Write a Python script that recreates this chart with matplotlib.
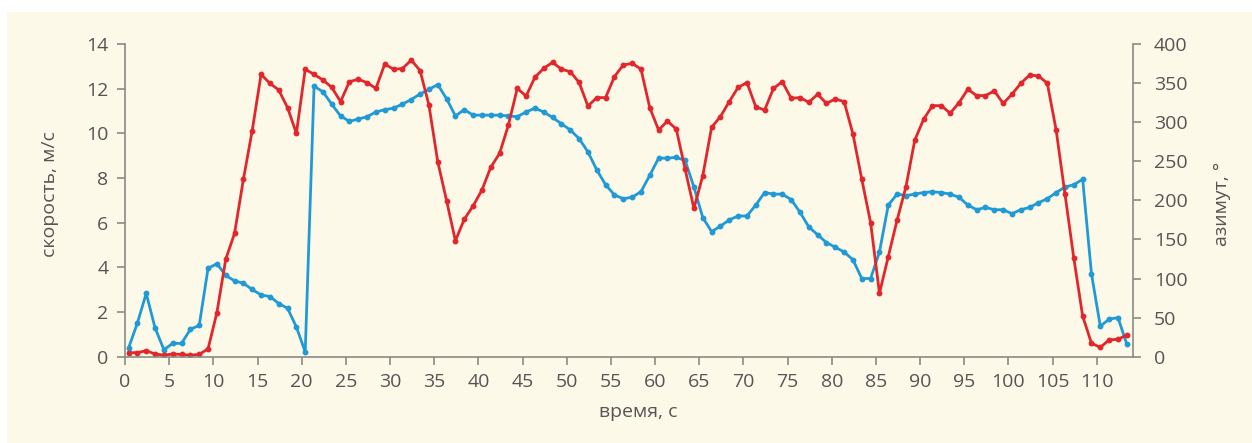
import numpy as np
import matplotlib
matplotlib.use("Agg")
import matplotlib.pyplot as plt
from matplotlib.patches import Rectangle

# time grid, 1 s sampling
time_s = np.arange(114) + 0.4

speed = [
    0.18, 0.18, 0.27, 0.12, 0.07, 0.12, 0.10, 0.07, 0.10, 0.35,
    1.97, 4.36, 5.52, 7.94, 10.12, 12.64, 12.24, 11.94, 11.15, 10.00,
    12.87, 12.64, 12.39, 12.06, 11.42, 12.31, 12.42, 12.27, 12.01, 13.10,
    12.87, 12.90, 13.28, 12.81, 11.27, 8.73, 6.99, 5.19, 6.15, 6.75,
    7.46, 8.48, 9.10, 10.37, 12.01, 11.67, 12.51, 12.91, 13.18, 12.87,
    12.76, 12.28, 11.22, 11.60, 11.60, 12.54, 13.06, 13.13, 12.88, 11.15,
    10.15, 10.55, 10.19, 8.40, 6.64, 8.10, 10.27, 10.75, 11.42, 12.06,
    12.27, 11.19, 11.04, 12.01, 12.31, 11.57, 11.60, 11.39, 11.75, 11.34,
    11.54, 11.42, 9.97, 7.94, 6.00, 2.84, 4.48, 6.12, 7.61, 9.70,
    10.63, 11.24, 11.24, 10.90, 11.37, 11.97, 11.69, 11.69, 11.90, 11.34,
    11.75, 12.24, 12.61, 12.57, 12.24, 10.15, 7.28, 4.41, 1.82, 0.60,
    0.42, 0.75, 0.78, 0.97,
]

azimuth = [
    11, 43, 81, 37, 9, 17, 17, 35, 40, 113,
    119, 104, 97, 94, 86, 79, 77, 68, 62, 38,
    6, 346, 339, 323, 308, 301, 304, 307, 313, 316,
    318, 323, 329, 336, 342, 348, 330, 308, 316, 309,
    309, 309, 309, 308, 307, 313, 318, 313, 306, 298,
    290, 279, 262, 239, 220, 207, 202, 204, 211, 232,
    254, 254, 255, 251, 217, 178, 160, 167, 175, 180,
    180, 194, 210, 208, 208, 201, 185, 166, 156, 146,
    140, 134, 124, 100, 100, 134, 194, 208, 206, 208,
    210, 211, 210, 208, 204, 194, 188, 191, 188, 188,
    183, 188, 191, 197, 202, 210, 217, 220, 227, 106,
    39, 48, 50, 16,
]

x_ticks = list(range(0, 111, 5))
speed_ticks = list(range(0, 15, 2))
azimuth_ticks = list(range(0, 401, 50))

RED = "#e3262b"
BLUE = "#1f9ad6"
CREAM = "#fdf9e8"
TEXT = "#555555"
GREY = "#8a8a85"

plt.rcParams["font.family"] = ["Open Sans", "DejaVu Sans"]

fig = plt.figure(figsize=(12.52, 4.43), dpi=100, facecolor="white")
fig.patches.append(Rectangle((7 / 1252, 0), 1 - 7 / 1252, 1 - 12 / 443,
                             transform=fig.transFigure, facecolor=CREAM,
                             edgecolor="none", zorder=-10))

ax = fig.add_axes([125 / 1252, 86.3 / 443, 1008 / 1252, 312.7 / 443])
ax2 = ax.twinx()
ax.set_zorder(ax2.get_zorder() + 1)
ax.patch.set_visible(False)
ax2.patch.set_visible(False)

ax2.plot(time_s, azimuth, color=BLUE, lw=2.0, marker="o", ms=3.2,
         solid_joinstyle="round")
ax.plot(time_s, speed, color=RED, lw=2.0, marker="o", ms=3.2,
        solid_joinstyle="round")

ax.set_xlim(0, 114.1)
ax.set_ylim(0, 14)
ax2.set_ylim(0, 400)
ax.set_xticks(x_ticks)
ax.set_yticks(speed_ticks)
ax2.set_yticks(azimuth_ticks)

for a in (ax, ax2):
    a.spines["top"].set_visible(False)
    for s in a.spines.values():
        s.set_color(GREY)
        s.set_linewidth(1.2)
    a.tick_params(colors=GREY, labelcolor=TEXT, labelsize=14, length=6,
                  width=1.2, pad=6)
ax.spines["right"].set_visible(False)
ax2.spines["left"].set_visible(False)
ax2.spines["bottom"].set_visible(False)
ax2.tick_params(axis="y", pad=9)

ax.text(-0.074, 0.52, "скорость, м/с", transform=ax.transAxes, rotation=90,
        ha="center", va="center", fontsize=14, color=TEXT)
ax.text(1.088, 0.49, "азимут, °", transform=ax.transAxes, rotation=90,
        ha="center", va="center", fontsize=14, color=TEXT)
ax.text(0.509, -0.177, "время, с", transform=ax.transAxes,
        ha="center", va="center", fontsize=14, color=TEXT)

fig.savefig("out.png", dpi=100, facecolor=fig.get_facecolor())
